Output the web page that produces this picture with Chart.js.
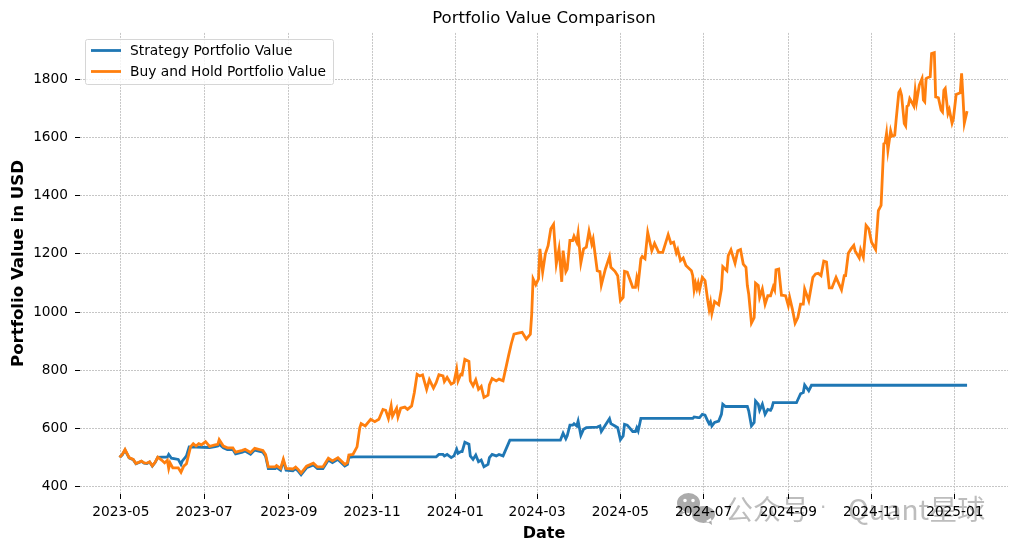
<!DOCTYPE html>
<html>
<head>
<meta charset="utf-8">
<title>Portfolio Value Comparison</title>
<script src="https://cdn.jsdelivr.net/npm/chart.js@4"></script>
<style>
    html, body { margin: 0; padding: 0; background: #fff; }
    #wrap { width: 1018px; height: 551px; }
</style>
</head>
<body>
<div id="wrap"><canvas id="portfolioChart"></canvas></div>
<script>
const buyHoldDates = [
    '2023-04-30', '2023-05-02', '2023-05-04', '2023-05-07', '2023-05-10', '2023-05-12', '2023-05-16', '2023-05-18', '2023-05-20', '2023-05-22',
    '2023-05-24', '2023-05-26', '2023-05-28', '2023-05-31', '2023-06-02', '2023-06-04', '2023-06-05', '2023-06-06', '2023-06-08', '2023-06-12',
    '2023-06-14', '2023-06-16', '2023-06-18', '2023-06-21', '2023-06-23', '2023-06-25', '2023-06-27', '2023-06-29', '2023-07-02', '2023-07-05',
    '2023-07-09', '2023-07-11', '2023-07-12', '2023-07-15', '2023-07-18', '2023-07-22', '2023-07-24', '2023-07-29', '2023-07-31', '2023-08-04',
    '2023-08-07', '2023-08-13', '2023-08-15', '2023-08-17', '2023-08-22', '2023-08-23', '2023-08-26', '2023-08-28', '2023-08-30', '2023-09-04',
    '2023-09-06', '2023-09-08', '2023-09-10', '2023-09-14', '2023-09-19', '2023-09-22', '2023-09-26', '2023-09-30', '2023-10-03', '2023-10-07',
    '2023-10-12', '2023-10-14', '2023-10-15', '2023-10-18', '2023-10-21', '2023-10-23', '2023-10-24', '2023-10-27', '2023-10-31', '2023-11-03',
    '2023-11-06', '2023-11-09', '2023-11-11', '2023-11-13', '2023-11-15', '2023-11-16', '2023-11-19', '2023-11-20', '2023-11-22', '2023-11-25',
    '2023-11-27', '2023-11-30', '2023-12-02', '2023-12-04', '2023-12-06', '2023-12-08', '2023-12-11', '2023-12-13', '2023-12-16', '2023-12-18',
    '2023-12-20', '2023-12-23', '2023-12-24', '2023-12-26', '2023-12-29', '2023-12-31', '2024-01-02', '2024-01-03', '2024-01-05', '2024-01-06',
    '2024-01-08', '2024-01-11', '2024-01-12', '2024-01-14', '2024-01-16', '2024-01-18', '2024-01-20', '2024-01-22', '2024-01-25', '2024-01-26',
    '2024-01-28', '2024-01-31', '2024-02-02', '2024-02-05', '2024-02-09', '2024-02-11', '2024-02-13', '2024-02-16', '2024-02-19', '2024-02-22',
    '2024-02-25', '2024-02-26', '2024-02-27', '2024-02-29', '2024-03-02', '2024-03-03', '2024-03-05', '2024-03-07', '2024-03-09', '2024-03-11',
    '2024-03-13', '2024-03-15', '2024-03-17', '2024-03-19', '2024-03-20', '2024-03-22', '2024-03-23', '2024-03-25', '2024-03-27', '2024-03-28',
    '2024-03-30', '2024-03-31', '2024-04-02', '2024-04-04', '2024-04-06', '2024-04-08', '2024-04-10', '2024-04-11', '2024-04-14', '2024-04-16',
    '2024-04-17', '2024-04-20', '2024-04-23', '2024-04-24', '2024-04-27', '2024-04-29', '2024-05-01', '2024-05-03', '2024-05-04', '2024-05-06',
    '2024-05-10', '2024-05-12', '2024-05-13', '2024-05-14', '2024-05-16', '2024-05-17', '2024-05-19', '2024-05-21', '2024-05-24', '2024-05-26',
    '2024-05-29', '2024-06-01', '2024-06-05', '2024-06-07', '2024-06-09', '2024-06-11', '2024-06-12', '2024-06-14', '2024-06-16', '2024-06-18',
    '2024-06-22', '2024-06-23', '2024-06-24', '2024-06-25', '2024-06-26', '2024-06-27', '2024-06-28', '2024-06-30', '2024-07-02', '2024-07-04',
    '2024-07-05', '2024-07-06', '2024-07-07', '2024-07-09', '2024-07-12', '2024-07-14', '2024-07-15', '2024-07-18', '2024-07-19', '2024-07-21',
    '2024-07-24', '2024-07-26', '2024-07-28', '2024-07-30', '2024-08-01', '2024-08-02', '2024-08-03', '2024-08-05', '2024-08-07', '2024-08-08',
    '2024-08-10', '2024-08-11', '2024-08-13', '2024-08-15', '2024-08-17', '2024-08-19', '2024-08-21', '2024-08-22', '2024-08-23', '2024-08-25',
    '2024-08-27', '2024-08-30', '2024-09-01', '2024-09-02', '2024-09-04', '2024-09-06', '2024-09-08', '2024-09-10', '2024-09-12', '2024-09-13',
    '2024-09-16', '2024-09-19', '2024-09-21', '2024-09-23', '2024-09-25', '2024-09-27', '2024-09-29', '2024-10-01', '2024-10-03', '2024-10-06',
    '2024-10-10', '2024-10-12', '2024-10-13', '2024-10-15', '2024-10-17', '2024-10-19', '2024-10-20', '2024-10-23', '2024-10-24', '2024-10-26',
    '2024-10-28', '2024-10-30', '2024-11-01', '2024-11-04', '2024-11-06', '2024-11-08', '2024-11-10', '2024-11-11', '2024-11-12', '2024-11-13',
    '2024-11-15', '2024-11-16', '2024-11-18', '2024-11-19', '2024-11-21', '2024-11-22', '2024-11-23', '2024-11-25', '2024-11-26', '2024-11-27',
    '2024-11-28', '2024-11-29', '2024-11-30', '2024-12-02', '2024-12-03', '2024-12-04', '2024-12-06', '2024-12-08', '2024-12-09', '2024-12-10',
    '2024-12-11', '2024-12-12', '2024-12-14', '2024-12-15', '2024-12-17', '2024-12-18', '2024-12-20', '2024-12-22', '2024-12-23', '2024-12-24',
    '2024-12-25', '2024-12-27', '2024-12-28', '2024-12-30', '2024-12-31', '2025-01-02', '2025-01-05', '2025-01-06', '2025-01-07', '2025-01-08',
    '2025-01-10'
];
const buyHoldValues = [
    500, 510, 527, 499, 493, 479, 487, 481, 480, 485,
    471, 483, 501, 490, 481, 490, 462, 481, 464, 464,
    449, 470, 478, 536, 547, 539, 547, 543, 554, 538,
    543, 545, 561, 539, 533, 533, 518, 524, 528, 517,
    531, 524, 510, 467, 467, 472, 462, 494, 462, 460,
    467, 458, 446, 470, 480, 467, 467, 497, 488, 499,
    476, 482, 508, 510, 536, 602, 616, 608, 631, 623,
    631, 665, 662, 634, 677, 642, 669, 639, 669, 673,
    665, 677, 723, 786, 780, 784, 734, 767, 738, 757,
    784, 780, 761, 775, 752, 757, 803, 763, 786, 784,
    837, 830, 763, 746, 767, 734, 744, 706, 714, 749,
    771, 763, 769, 763, 849, 890, 924, 927, 930, 907,
    924, 993, 1114, 1094, 1114, 1217, 1137, 1200, 1228, 1286,
    1301, 1165, 1217, 1104, 1211, 1139, 1148, 1246, 1246, 1261,
    1240, 1271, 1169, 1217, 1223, 1278, 1234, 1251, 1142, 1139,
    1093, 1148, 1191, 1154, 1140, 1125, 1039, 1050, 1140, 1137,
    1085, 1085, 1117, 1096, 1183, 1191, 1183, 1274, 1211, 1236,
    1205, 1205, 1266, 1236, 1240, 1203, 1215, 1177, 1186, 1160,
    1142, 1125, 1076, 1099, 1080, 1099, 1076, 1119, 1108, 1039,
    1010, 1033, 995, 1036, 1025, 1079, 1156, 1142, 1194, 1214,
    1168, 1211, 1215, 1165, 1154, 1091, 1062, 962, 981, 1099,
    1091, 1050, 1079, 1027, 1056, 1056, 1087, 1076, 1145, 1148,
    1058, 1056, 1022, 1050, 1010, 962, 981, 1027, 1027, 1079,
    1039, 1119, 1131, 1133, 1125, 1175, 1172, 1083, 1083, 1119,
    1076, 1125, 1125, 1202, 1217, 1229, 1210, 1186, 1214, 1188,
    1298, 1286, 1240, 1215, 1349, 1367, 1579, 1582, 1614, 1556,
    1623, 1605, 1608, 1660, 1755, 1763, 1746, 1648, 1640, 1708,
    1711, 1734, 1726, 1708, 1761, 1723, 1780, 1803, 1729, 1723,
    1803, 1806, 1809, 1889, 1892, 1740, 1737, 1694, 1688, 1763,
    1769, 1683, 1696, 1650, 1665, 1748, 1754, 1821, 1740, 1650,
    1691
];

const strategyDates = [
    '2023-04-30', '2023-05-02', '2023-05-04', '2023-05-07', '2023-05-10', '2023-05-12', '2023-05-16', '2023-05-18', '2023-05-20', '2023-05-22',
    '2023-05-24', '2023-05-26', '2023-05-28', '2023-05-31', '2023-06-04', '2023-06-05', '2023-06-07', '2023-06-12', '2023-06-14', '2023-06-15',
    '2023-06-17', '2023-06-18', '2023-06-20', '2023-07-05', '2023-07-09', '2023-07-11', '2023-07-12', '2023-07-15', '2023-07-18', '2023-07-22',
    '2023-07-24', '2023-07-29', '2023-07-31', '2023-08-04', '2023-08-07', '2023-08-13', '2023-08-15', '2023-08-17', '2023-08-22', '2023-08-23',
    '2023-08-26', '2023-08-28', '2023-08-30', '2023-09-04', '2023-09-06', '2023-09-08', '2023-09-10', '2023-09-14', '2023-09-19', '2023-09-22',
    '2023-09-26', '2023-09-30', '2023-10-03', '2023-10-07', '2023-10-12', '2023-10-14', '2023-10-15', '2023-10-18', '2023-12-18', '2023-12-20',
    '2023-12-23', '2023-12-24', '2023-12-26', '2023-12-29', '2023-12-31', '2024-01-02', '2024-01-03', '2024-01-05', '2024-01-06', '2024-01-08',
    '2024-01-11', '2024-01-12', '2024-01-14', '2024-01-16', '2024-01-18', '2024-01-20', '2024-01-22', '2024-01-25', '2024-01-26', '2024-01-28',
    '2024-01-31', '2024-02-02', '2024-02-05', '2024-02-10', '2024-03-18', '2024-03-20', '2024-03-22', '2024-03-23', '2024-03-25', '2024-03-27',
    '2024-03-28', '2024-03-30', '2024-03-31', '2024-04-02', '2024-04-04', '2024-04-06', '2024-04-14', '2024-04-16', '2024-04-17', '2024-04-20',
    '2024-04-23', '2024-04-24', '2024-04-27', '2024-04-29', '2024-05-01', '2024-05-03', '2024-05-04', '2024-05-06', '2024-05-10', '2024-05-12',
    '2024-05-13', '2024-05-14', '2024-05-16', '2024-06-23', '2024-06-24', '2024-06-27', '2024-06-28', '2024-06-30', '2024-07-02', '2024-07-04',
    '2024-07-05', '2024-07-06', '2024-07-07', '2024-07-09', '2024-07-12', '2024-07-14', '2024-07-15', '2024-07-17', '2024-08-02', '2024-08-03',
    '2024-08-05', '2024-08-07', '2024-08-08', '2024-08-10', '2024-08-11', '2024-08-13', '2024-08-15', '2024-08-17', '2024-08-19', '2024-08-20',
    '2024-08-21', '2024-09-07', '2024-09-10', '2024-09-12', '2024-09-13', '2024-09-16', '2024-09-18', '2025-01-10'
];
const strategyValues = [
    500, 509, 525, 498, 492, 478, 486, 480, 479, 484,
    470, 482, 500, 501, 501, 510, 497, 493, 476, 488,
    499, 505, 536, 534, 537, 539, 545, 533, 527, 527,
    512, 518, 522, 511, 525, 518, 504, 461, 461, 466,
    456, 488, 456, 454, 461, 452, 440, 464, 474, 461,
    461, 491, 482, 493, 470, 476, 500, 502, 502, 510,
    510, 505, 510, 499, 505, 528, 514, 520, 520, 552,
    545, 505, 493, 508, 485, 491, 468, 476, 499, 510,
    505, 510, 505, 559, 559, 583, 564, 574, 611, 611,
    616, 608, 625, 576, 597, 602, 604, 608, 589, 611,
    633, 616, 608, 602, 561, 574, 614, 611, 589, 589,
    602, 591, 634, 634, 639, 637, 637, 648, 645, 625,
    616, 623, 608, 620, 625, 648, 683, 675, 675, 660,
    608, 620, 694, 683, 662, 683, 648, 665, 662, 671,
    688, 688, 719, 723, 749, 729, 748, 748
];

const xTickDates = ['2023-05-01', '2023-07-01', '2023-09-01', '2023-11-01', '2024-01-01', '2024-03-01', '2024-05-01', '2024-07-01', '2024-09-01', '2024-11-01', '2025-01-01'];
const xTickLabels = ['2023-05', '2023-07', '2023-09', '2023-11', '2024-01', '2024-03', '2024-05', '2024-07', '2024-09', '2024-11', '2025-01'];
const yTickValues = [400, 600, 800, 1000, 1200, 1400, 1600, 1800];

const FONT = '"DejaVu Sans", sans-serif';

function toPoints(dates, values) {
    return dates.map((d, i) => ({ x: Date.parse(d), y: values[i] }));
}

// wechat bubbles and watermark text, sits under the axis labels
function drawWatermark(ctx) {
    ctx.save();
    ctx.fillStyle = '#ababab';
    ctx.beginPath();
    ctx.ellipse(688.5, 503, 11.5, 10, 0, 0, Math.PI * 2);
    ctx.moveTo(680, 509);
    ctx.lineTo(678, 516);
    ctx.lineTo(686, 512);
    ctx.fill();
    ctx.beginPath();
    ctx.ellipse(703.5, 514.5, 11.5, 8.5, 0, 0, Math.PI * 2);
    ctx.moveTo(706, 521);
    ctx.lineTo(712, 525);
    ctx.lineTo(711, 518);
    ctx.fill();
    ctx.fillStyle = '#fff';
    ctx.beginPath();
    ctx.arc(685, 500.5, 1.8, 0, Math.PI * 2);
    ctx.arc(693, 500.5, 1.8, 0, Math.PI * 2);
    ctx.fill();
    ctx.fillStyle = '#bdbdbd';
    ctx.textBaseline = 'middle';
    ctx.font = '28px "Noto Sans CJK SC", sans-serif';
    ctx.fillText('公众号', 725, 509);
    ctx.fillText('Quant星球', 848, 509);
    ctx.font = '20px "DejaVu Sans", sans-serif';
    ctx.fillText('·', 820, 509);
    ctx.restore();
}

// legend box in the top left corner of the plot, framealpha look
function drawLegend(chart) {
    const ctx = chart.ctx;
    ctx.save();
    ctx.fillStyle = 'rgba(255,255,255,0.8)';
    ctx.strokeStyle = '#d6d6d6';
    ctx.lineWidth = 1;
    ctx.beginPath();
    ctx.roundRect(85.5, 39.5, 248, 45, 2);
    ctx.fill();
    ctx.stroke();
    ctx.font = '13.8px ' + FONT;
    ctx.textBaseline = 'middle';
    chart.data.datasets.forEach((ds, i) => {
        const y = 50.5 + i * 21;
        ctx.strokeStyle = ds.borderColor;
        ctx.lineWidth = 2.8;
        ctx.beginPath();
        ctx.moveTo(91, y);
        ctx.lineTo(121, y);
        ctx.stroke();
        ctx.fillStyle = '#000';
        ctx.fillText(ds.label, 130, y + 0.5);
    });
    ctx.restore();
}

const overlayPlugin = {
    id: 'overlay',
    beforeDraw(chart) { drawWatermark(chart.ctx); },
    afterDatasetsDraw(chart) { drawLegend(chart); }
};

new Chart(document.getElementById('portfolioChart'), {
    type: 'line',
    data: {
        datasets: [
            {
                label: 'Strategy Portfolio Value',
                data: toPoints(strategyDates, strategyValues),
                borderColor: '#1f77b4',
                backgroundColor: '#1f77b4',
                borderWidth: 2.8,
                pointRadius: 0,
                tension: 0,
                order: 2
            },
            {
                label: 'Buy and Hold Portfolio Value',
                data: toPoints(buyHoldDates, buyHoldValues),
                borderColor: '#ff7f0e',
                backgroundColor: '#ff7f0e',
                borderWidth: 2.8,
                pointRadius: 0,
                tension: 0,
                order: 1
            }
        ]
    },
    plugins: [overlayPlugin],
    options: {
        responsive: true,
        maintainAspectRatio: false,
        animation: false,
        parsing: false,
        layout: { padding: { left: 0, right: 10, top: 0, bottom: 0 } },
        plugins: {
            title: {
                display: true,
                text: 'Portfolio Value Comparison',
                fullSize: false,
                color: '#000',
                font: { family: FONT, size: 16.6, weight: 'normal' },
                padding: { top: 9, bottom: 4 }
            },
            legend: { display: false },
            tooltip: { enabled: false }
        },
        scales: {
            x: {
                type: 'linear',
                min: Date.parse('2023-04-01'),
                max: Date.parse('2025-02-09'),
                afterBuildTicks(scale) {
                    scale.ticks = xTickDates.map(d => ({ value: Date.parse(d) }));
                },
                afterFit(scale) { scale.height = 57; },
                title: {
                    display: true,
                    text: 'Date',
                    color: '#000',
                    font: { family: FONT, size: 16, weight: 'bold' },
                    padding: { top: 4, bottom: 8 }
                },
                border: { display: false, dash: [2, 1] },
                grid: {
                    color: '#c6c6c6',
                    lineWidth: 1,
                    tickColor: '#000',
                    tickLength: 5,
                    tickWidth: 1,
                    tickBorderDash: []
                },
                ticks: {
                    autoSkip: false,
                    maxRotation: 0,
                    color: '#000',
                    padding: 5,
                    font: { family: FONT, size: 13.7 },
                    callback: (value, index) => xTickLabels[index]
                }
            },
            y: {
                min: 374,
                max: 1960,
                afterBuildTicks(scale) {
                    scale.ticks = yTickValues.map(v => ({ value: v }));
                },
                afterFit(scale) { scale.width = 80; },
                title: {
                    display: true,
                    text: 'Portfolio Value in USD',
                    color: '#000',
                    font: { family: FONT, size: 16.6, weight: 'bold' },
                    padding: { top: 9, bottom: 0 }
                },
                border: { display: false, dash: [2, 1] },
                grid: {
                    color: '#c6c6c6',
                    lineWidth: 1,
                    tickColor: '#000',
                    tickLength: 5,
                    tickWidth: 1,
                    tickBorderDash: []
                },
                ticks: {
                    autoSkip: false,
                    color: '#000',
                    padding: 7,
                    font: { family: FONT, size: 13.7 },
                    callback: value => String(value)
                }
            }
        }
    }
});
</script>
</body>
</html>
